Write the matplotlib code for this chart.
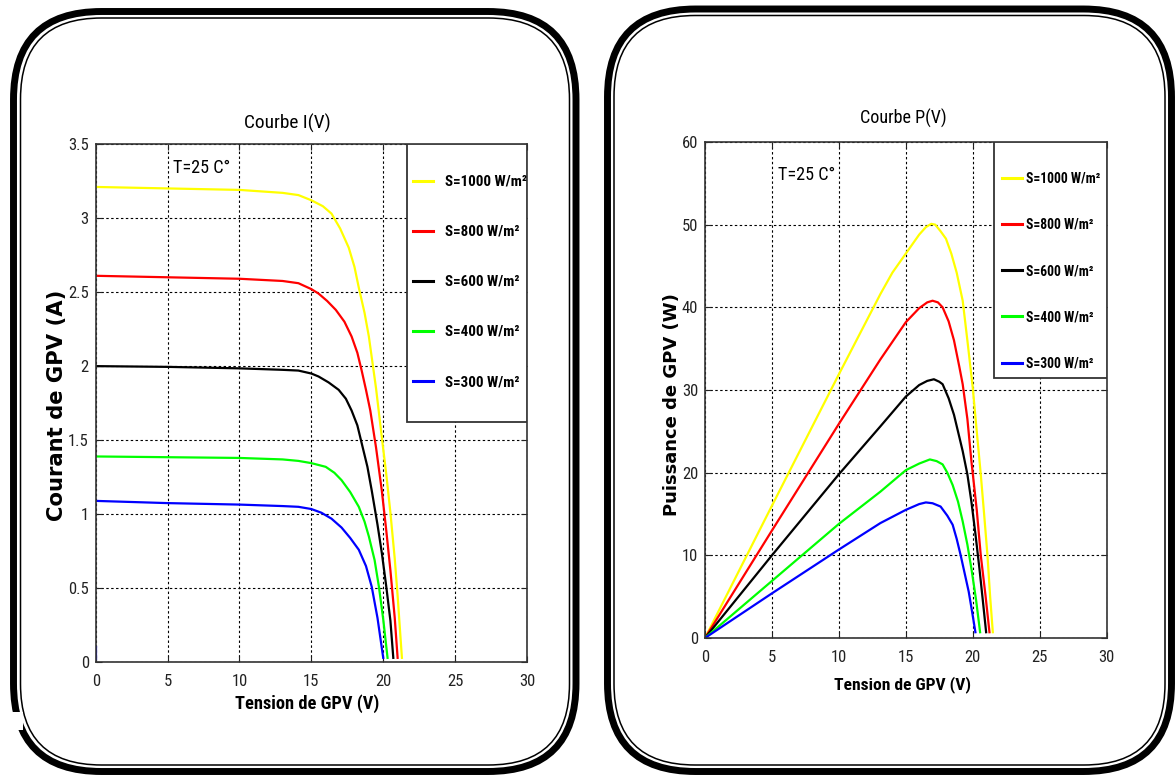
import matplotlib
matplotlib.use("Agg")
import matplotlib.pyplot as plt
import matplotlib.font_manager as fm
from matplotlib.patches import FancyBboxPatch, Rectangle
from matplotlib.transforms import IdentityTransform

# ---------------- data ----------------
irr_labels = ["S=1000 W/m²", "S=800 W/m²", "S=600 W/m²", "S=400 W/m²", "S=300 W/m²"]
colors = ["#FFFF00", "#FF0000", "#000000", "#00FF00", "#0000FF"]

# I(V) curves
iv_V_1000 = [0, 5, 10, 13, 14.1, 15, 15.8, 16.4, 17.0, 17.6, 18.0, 18.3, 18.7, 19.0, 19.5, 19.9, 20.2, 20.5, 20.8, 21.0, 21.3]
iv_I_1000 = [3.21, 3.20, 3.19, 3.17, 3.155, 3.12, 3.08, 3.03, 2.93, 2.80, 2.67, 2.53, 2.36, 2.20, 1.85, 1.52, 1.28, 1.01, 0.70, 0.45, 0.03]
iv_V_800 = [0, 5, 10, 13, 14.1, 15, 15.5, 16.1, 16.7, 17.3, 17.8, 18.2, 18.5, 18.8, 19.1, 19.5, 19.9, 20.2, 20.5, 20.8, 21.0]
iv_I_800 = [2.61, 2.60, 2.59, 2.575, 2.56, 2.52, 2.49, 2.44, 2.38, 2.30, 2.20, 2.09, 1.97, 1.84, 1.70, 1.45, 1.16, 0.90, 0.62, 0.30, 0.03]
iv_V_600 = [0, 5, 10, 13, 14.1, 15, 15.5, 16.2, 16.9, 17.4, 17.8, 18.2, 18.5, 18.9, 19.2, 19.6, 19.9, 20.2, 20.5, 20.7]
iv_I_600 = [2.00, 1.995, 1.985, 1.975, 1.97, 1.95, 1.93, 1.89, 1.84, 1.78, 1.70, 1.60, 1.48, 1.32, 1.16, 0.93, 0.74, 0.52, 0.28, 0.03]
iv_V_400 = [0, 5, 10, 13, 14.1, 15, 16.0, 16.6, 17.1, 17.7, 18.3, 18.7, 19.0, 19.4, 19.7, 20.0, 20.3]
iv_I_400 = [1.39, 1.385, 1.38, 1.37, 1.36, 1.345, 1.32, 1.28, 1.23, 1.15, 1.05, 0.95, 0.85, 0.69, 0.51, 0.29, 0.03]
iv_V_300 = [0, 5, 10, 13, 14.1, 15, 15.7, 16.4, 17.1, 17.7, 18.3, 18.8, 19.2, 19.6, 20.0]
iv_I_300 = [1.09, 1.075, 1.065, 1.055, 1.05, 1.035, 1.01, 0.97, 0.91, 0.84, 0.76, 0.65, 0.51, 0.30, 0.03]
stub_V = [0, 0]
stub_I = [0.02, 0.10]

# P(V) curves
pv_V_1000 = [0, 5, 10, 13.1, 14, 15, 16.0, 16.5, 16.9, 17.2, 17.6, 18.0, 18.4, 18.8, 19.25, 19.6, 20.0, 20.3, 20.6, 20.85, 21.1, 21.3, 21.5]
pv_P_1000 = [0, 16.0, 31.9, 41.6, 44.2, 46.5, 48.8, 49.7, 50.1, 50.0, 49.2, 48.3, 46.5, 44.2, 40.8, 36.0, 30.3, 25.0, 19.8, 15.0, 10.0, 5.0, 0.7]
pv_V_800 = [0, 5, 10, 13.1, 15, 16.0, 16.6, 17.0, 17.4, 17.75, 18.2, 18.6, 19.0, 19.25, 19.6, 19.9, 20.3, 20.6, 20.95, 21.25]
pv_P_800 = [0, 13.0, 25.9, 33.7, 38.2, 39.9, 40.6, 40.8, 40.6, 40.0, 38.3, 36.0, 32.8, 30.7, 26.5, 21.4, 15.5, 10.0, 5.2, 0.7]
pv_V_600 = [0, 5, 10, 13.1, 15, 16.0, 16.6, 17.1, 17.5, 17.75, 18.2, 18.6, 19.0, 19.25, 19.6, 19.9, 20.2, 20.5, 20.75, 21.0]
pv_P_600 = [0, 10.0, 19.8, 25.6, 29.2, 30.6, 31.1, 31.3, 31.0, 30.7, 29.0, 27.0, 24.3, 22.6, 19.8, 16.5, 12.6, 8.4, 4.6, 0.7]
pv_V_400 = [0, 5, 10, 13.1, 15, 16.0, 16.8, 17.3, 17.75, 18.1, 18.5, 18.9, 19.25, 19.6, 19.9, 20.25, 20.55]
pv_P_400 = [0, 6.9, 13.8, 17.7, 20.3, 21.1, 21.6, 21.4, 21.0, 20.0, 18.5, 16.5, 14.1, 11.3, 8.4, 4.6, 0.7]
pv_V_300 = [0, 5, 10, 13.1, 15, 16.0, 16.5, 17.0, 17.6, 18.1, 18.5, 18.8, 19.1, 19.4, 19.7, 19.95, 20.2]
pv_P_300 = [0, 5.4, 10.7, 13.9, 15.5, 16.2, 16.4, 16.3, 15.9, 14.8, 13.7, 12.0, 10.0, 7.8, 5.6, 3.2, 0.7]

x_ticks = [0, 5, 10, 15, 20, 25, 30]
x_tick_labels = ["0", "5", "10", "15", "20", "25", "30"]
i_ticks = [0, 0.5, 1, 1.5, 2, 2.5, 3, 3.5]
i_tick_labels = ["0", "0.5", "1", "1.5", "2", "2.5", "3", "3.5"]
p_ticks = [0, 10, 20, 30, 40, 50, 60]
p_tick_labels = ["0", "10", "20", "30", "40", "50", "60"]

# ---------------- fonts: prefer a condensed sans if one is installed ----------------
def pick_narrow():
    entries = fm.fontManager.ttflist
    names = {e.name for e in entries}
    for n in ["Liberation Sans Narrow", "Arial Narrow", "Roboto Condensed",
              "Open Sans Condensed", "Noto Sans Condensed", "DejaVu Sans Condensed"]:
        if n in names:
            return n, "normal", True
    for fam in ["Liberation Sans", "Roboto", "Noto Sans", "Open Sans", "DejaVu Sans"]:
        for e in entries:
            st = e.stretch
            if e.name == fam and (st in ("condensed", "semi-condensed", "extra-condensed")
                                  or (isinstance(st, (int, float)) and st <= 400)):
                return fam, "condensed", True
    return "Liberation Sans", "normal", False


NFAM, NSTRETCH, HAVE_NARROW = pick_narrow()
NARROW = [NFAM, "DejaVu Sans"]

W, H = 1176, 776
fig = plt.figure(figsize=(W / 100, H / 100), dpi=100)
fig.patch.set_facecolor("white")
renderer = fig.canvas.get_renderer()


def size_for(s, target_px, vertical=False, **kw):
    base = 12.0
    t = fig.text(0, 0, s, fontsize=base, rotation=90 if vertical else 0, **kw)
    bb = t.get_window_extent(renderer)
    t.remove()
    return base * target_px / (bb.height if vertical else bb.width)


def px_axes(x0, ytop, x1, ybot):
    return fig.add_axes([x0 / W, 1 - ybot / H, (x1 - x0) / W, (ybot - ytop) / H])


TICK_FS = 12 if HAVE_NARROW else 11


def style_axes(ax, yticks, ylabels, ymax):
    ax.set_xlim(0, 30)
    ax.set_ylim(0, ymax)
    ax.set_xticks(x_ticks)
    ax.set_xticklabels(x_tick_labels)
    ax.set_yticks(yticks)
    ax.set_yticklabels(ylabels)
    ax.tick_params(direction="in", length=4, width=0.8, top=True, right=True,
                   labelsize=TICK_FS, pad=5, colors="#222222")
    ax.tick_params(axis="x", pad=8.5)
    for lab in ax.get_xticklabels() + ax.get_yticklabels():
        lab.set_family(NARROW)
        lab.set_stretch(NSTRETCH)
    for sp in ax.spines.values():
        sp.set_color("#333333")
        sp.set_linewidth(1.2)
    ax.grid(True, color="black", linestyle=(0, (2.2, 2.2)), linewidth=0.8)
    ax.set_axisbelow(True)


NKW = dict(family=NARROW, stretch=NSTRETCH)
BKW = dict(family=NARROW, stretch=NSTRETCH, weight="bold")


def add_legend(ax, ax_px, handle_x, text_x, first_center_y, pitch, label_w):
    x0, ytop, x1, ybot = ax_px
    fs_pt = size_for(irr_labels[0], label_w, **BKW)
    fs_px = fs_pt * 100 / 72
    ls = pitch / fs_px - 0.94
    top_px = first_center_y - 0.47 * fs_px
    ax_x = (handle_x - x0) / (x1 - x0)
    ax_y = (ybot - top_px) / (ybot - ytop)
    leg = ax.legend(loc="upper left", bbox_to_anchor=(ax_x, ax_y), frameon=False,
                    borderpad=0, borderaxespad=0, handlelength=20 / fs_px,
                    handletextpad=(text_x - handle_x - 20) / fs_px,
                    labelspacing=ls, prop=fm.FontProperties(size=fs_pt, **BKW))
    leg.set_zorder(5)
    for h in leg.get_lines():
        h.set_linewidth(2.2)
    return leg


def px_text(x, y, s, target_w, ha="center", **kw):
    fs = size_for(s, target_w, **kw)
    fig.text(x / W, 1 - y / H, s, fontsize=fs, ha=ha, va="center", **kw)


# ---- left panel: I(V) ----
L_px = (95.7, 144, 527, 662.3)
axL = px_axes(*L_px)
style_axes(axL, i_ticks, i_tick_labels, 3.5)
iv_sets = [(iv_V_1000, iv_I_1000), (iv_V_800, iv_I_800), (iv_V_600, iv_I_600),
           (iv_V_400, iv_I_400), (iv_V_300, iv_I_300)]
for (v, i), c, lab in zip(iv_sets, colors, irr_labels):
    axL.plot(v, i, color=c, lw=1.6, label=lab, solid_joinstyle="round")
axL.plot(stub_V, stub_I, color="#0000FF", lw=1.6)
axL.add_patch(Rectangle((0.722, 0.4636), 0.278, 0.5364, transform=axL.transAxes,
                        facecolor="white", edgecolor="#333333", lw=1.3, zorder=3))
add_legend(axL, L_px, 413, 445, 182, 50.2, 82)
px_text(173, 168, "T=25 C°", 57, ha="left", **NKW)
px_text(287.5, 123, "Courbe I(V)", 87, **NKW)
px_text(307, 704, "Tension de GPV (V)", 144, **BKW)
fs_yl = size_for("Courant de GPV (A)", 230, vertical=True, family="DejaVu Sans", weight="bold")
fig.text(57 / W, 1 - 405 / H, "Courant de GPV (A)", rotation=90, ha="center", va="center",
         fontsize=fs_yl, family="DejaVu Sans", weight="bold")

# ---- right panel: P(V) ----
R_px = (705, 142, 1106.6, 638)
axR = px_axes(*R_px)
style_axes(axR, p_ticks, p_tick_labels, 60)
pv_sets = [(pv_V_1000, pv_P_1000), (pv_V_800, pv_P_800), (pv_V_600, pv_P_600),
           (pv_V_400, pv_P_400), (pv_V_300, pv_P_300)]
for (v, p), c, lab in zip(pv_sets, colors, irr_labels):
    axR.plot(v, p, color=c, lw=1.6, label=lab, solid_joinstyle="round")
axR.add_patch(Rectangle((0.7196, 0.524), 0.2804, 0.476, transform=axR.transAxes,
                        facecolor="white", edgecolor="#333333", lw=1.3, zorder=3))
add_legend(axR, R_px, 1002, 1026, 178, 45.0, 74)
px_text(778, 175, "T=25 C°", 57, ha="left", **NKW)
px_text(903.5, 118, "Courbe P(V)", 87, **NKW)
px_text(902, 685, "Tension de GPV (V)", 137, **BKW)
fs_yr = size_for("Puissance de GPV (W)", 222, vertical=True, family="DejaVu Sans", weight="bold")
fig.text(672 / W, 1 - 405 / H, "Puissance de GPV (W)", rotation=90, ha="center", va="center",
         fontsize=fs_yr, family="DejaVu Sans", weight="bold")

# ---- rounded double frames (pixel coordinates) ----
ident = IdentityTransform()


def rounded(x0, ytop, x1, ybot, r, lw):
    p = FancyBboxPatch((x0, H - ybot), x1 - x0, ybot - ytop,
                       boxstyle=f"round,pad=0,rounding_size={r}",
                       transform=ident, fill=False, edgecolor="black", linewidth=lw)
    fig.add_artist(p)


rounded(13.5, 11.5, 576, 771.5, 88, 5.0)
rounded(20.5, 18.0, 569.5, 765.0, 81, 1.1)
rounded(607.5, 9.0, 1171.5, 771.5, 88, 5.0)
rounded(614.0, 15.5, 1165.0, 765.0, 81, 1.1)
fig.add_artist(Rectangle((0, H - 730), 23, 18, transform=ident,
                         facecolor="white", edgecolor="none"))

fig.savefig("out.png", dpi=100)
